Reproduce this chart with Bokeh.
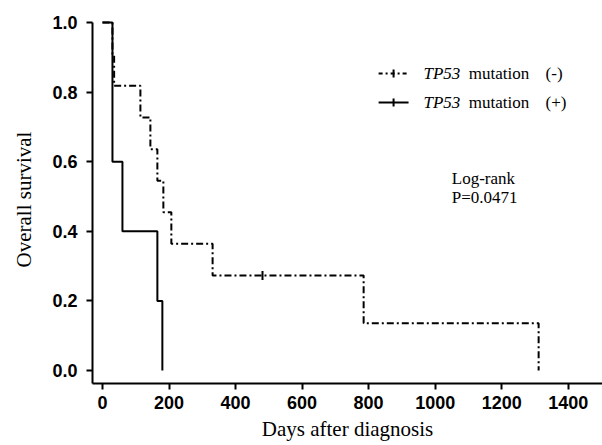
import math
from bokeh.plotting import figure
from bokeh.models import Range1d, FixedTicker, NumeralTickFormatter, Label
from bokeh.embed import file_html
from bokeh.resources import INLINE

# ---- data ----
neg_days = [0, 30, 35, 114, 144, 165, 183, 207, 331, 785, 1311]
neg_surv = [1.0, 0.909, 0.818, 0.727, 0.636, 0.545, 0.455, 0.364, 0.273, 0.136, 0.0]
neg_censor_days = [481]
neg_censor_surv = [0.273]

pos_days = [0, 30, 60, 165, 180]
pos_surv = [1.0, 0.6, 0.4, 0.2, 0.0]

x_ticks = [0, 200, 400, 600, 800, 1000, 1200, 1400]
y_ticks = [0.0, 0.2, 0.4, 0.6, 0.8, 1.0]

gene = "TP53"
legend_word = "mutation"
legend_signs = ["(-)", "(+)"]
stat_lines = ["Log-rank", "P=0.0471"]

Y0 = -0.0374
p = figure(width=602, height=445, output_backend="svg", toolbar_location=None,
           x_range=Range1d(-30, 1503), y_range=Range1d(Y0, 1.02))
p.min_border_left = 92
p.min_border_right = 0
p.min_border_top = 15
p.min_border_bottom = 62
p.outline_line_color = None
p.xgrid.visible = False
p.ygrid.visible = False
p.background_fill_color = "white"

DASH = "7 3 2 3"
p.step(neg_days, neg_surv, mode="after", line_color="black", line_width=2, line_dash=DASH)
p.step(pos_days, pos_surv, mode="after", line_color="black", line_width=2)
p.scatter(neg_censor_days, neg_censor_surv, marker="dash", angle=math.pi / 2, size=9,
          line_color="black", line_width=2)

# legend samples
lx0, lx1 = 830, 920
ly = [0.853, 0.77]
p.line([lx0, lx1], [ly[0], ly[0]], line_color="black", line_width=2, line_dash="4 3 2 3")
p.line([lx0, lx1], [ly[1], ly[1]], line_color="black", line_width=2)
p.scatter([(lx0 + lx1) / 2] * 2, ly, marker="dash", angle=math.pi / 2, size=8,
          line_color="black", line_width=2)

for yy, sign in zip(ly, legend_signs):
    p.add_layout(Label(x=965, y=yy, text=gene, text_font="Liberation Serif",
                       text_font_style="italic", text_font_size="17px",
                       text_baseline="middle", text_color="black"))
    p.add_layout(Label(x=1101, y=yy, text=legend_word, text_font="Liberation Serif",
                       text_font_size="17px", text_baseline="middle", text_color="black"))
    p.add_layout(Label(x=1332, y=yy, text=sign, text_font="Liberation Serif",
                       text_font_size="17px", text_baseline="middle", text_color="black"))

for yy, t in zip([0.552, 0.497], stat_lines):
    p.add_layout(Label(x=1050, y=yy, text=t, text_font="Liberation Serif",
                       text_font_size="17px", text_baseline="alphabetic", text_color="black"))

# axes
for ax in (p.xaxis[0], p.yaxis[0]):
    ax.axis_line_width = 2
    ax.axis_line_color = "black"
    ax.major_tick_line_width = 2
    ax.major_tick_line_color = "black"
    ax.major_tick_out = 6
    ax.major_tick_in = 0
    ax.minor_tick_line_color = None
    ax.major_label_text_font = "Liberation Sans"
    ax.major_label_text_font_style = "bold"
    ax.major_label_text_font_size = "18px"
    ax.major_label_text_color = "black"
    ax.axis_label_text_font = "Liberation Serif"
    ax.axis_label_text_font_style = "normal"
    ax.axis_label_text_font_size = "21px"
    ax.axis_label_text_color = "black"

p.xaxis.ticker = FixedTicker(ticks=x_ticks)
p.yaxis.ticker = FixedTicker(ticks=y_ticks)
p.yaxis.formatter = NumeralTickFormatter(format="0.0")
p.yaxis.bounds = (Y0, 1.0)
p.xaxis.axis_label = "Days after diagnosis"
p.yaxis.axis_label = "Overall survival"
p.xaxis.major_label_standoff = 6
p.yaxis.major_label_standoff = 9
p.xaxis.axis_label_standoff = 5
p.yaxis.axis_label_standoff = 13

open("out.html", "w").write(file_html(p, INLINE))
